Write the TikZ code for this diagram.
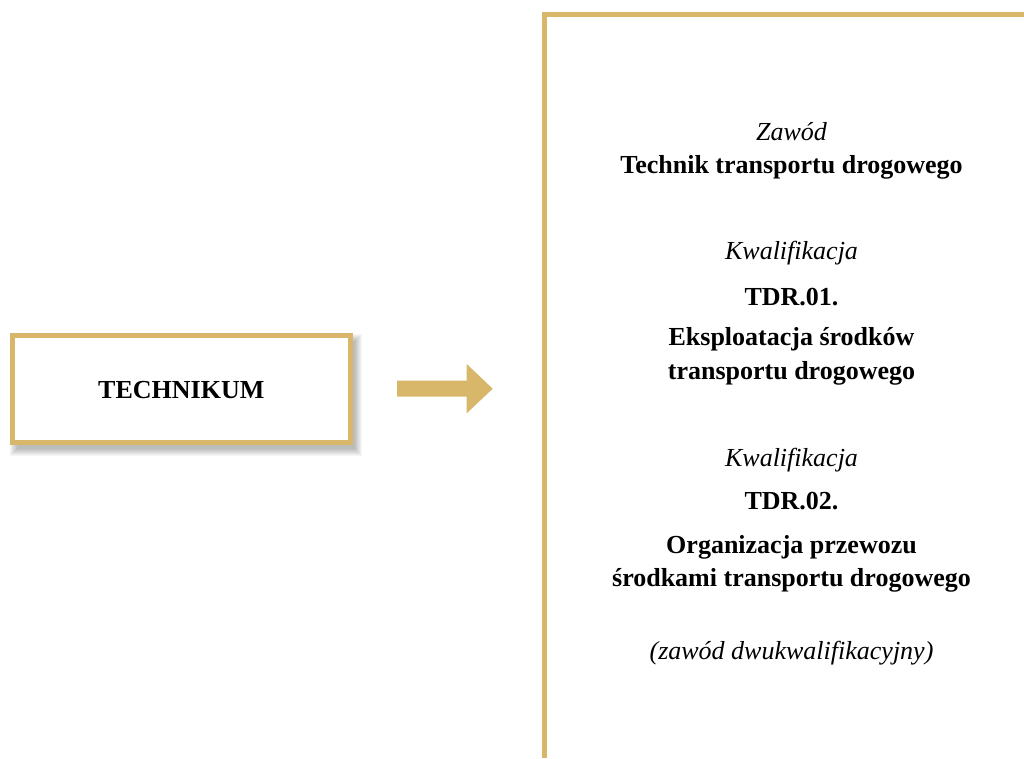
\documentclass[tikz,border=0pt]{standalone}
\usepackage{fontspec}
\setmainfont{Liberation Serif}
\definecolor{gold}{RGB}{217,183,106}
\begin{document}
\begin{tikzpicture}[x=1pt,y=-1pt,
  txt/.style={font=\fontsize{26}{31}\selectfont, text height=18pt, text depth=5pt, inner sep=0pt},
  it/.style={txt, font=\fontsize{26}{31}\selectfont\itshape},
  bf/.style={txt, font=\fontsize{26}{31}\selectfont\bfseries}]
\useasboundingbox[fill=white] (0,0) rectangle (1024,758);
% soft shadow of left box
\foreach \i in {1,...,8}{
  \fill[black, opacity=0.035] (12.3+5-\i+1,335.3+6-\i+1) rectangle (350.3+5+\i-1,442.7+6+\i-1);
}
% left box
\node[draw=gold, line width=4.7pt, fill=white, minimum width=338pt, minimum height=107.4pt] (box) at (181.3,389) {};
\node[bf] (tech) at (181.3,392) {TECHNIKUM};
% arrow
\fill[gold] (397,380.7) -- (466.7,380.7) -- (466.7,364) -- (492.7,388.7) -- (466.7,413.3) -- (466.7,396.7) -- (397,396.7) -- cycle;
% right panel
\draw[gold, line width=4.7pt] (544.7,758) -- (544.7,14.3) -- (1024,14.3);
% texts
\node[it] (z) at (791.5,134) {Zawód};
\node[bf] (t) at (791.5,167) {Technik transportu drogowego};
\node[it] (k1) at (791.5,253) {Kwalifikacja};
\node[bf] (c1) at (791.5,299) {TDR.01.};
\node[bf] (e1) at (791.5,339) {Eksploatacja środków};
\node[bf] (e2) at (791.5,373) {transportu drogowego};
\node[it] (k2) at (791.5,460) {Kwalifikacja};
\node[bf] (c2) at (791.5,503) {TDR.02.};
\node[bf] (o1) at (791.5,547) {Organizacja przewozu};
\node[bf] (o2) at (791.5,580) {środkami transportu drogowego};
\node[it] (d) at (791.5,653) {(zawód dwukwalifikacyjny)};
\end{tikzpicture}
\end{document}
